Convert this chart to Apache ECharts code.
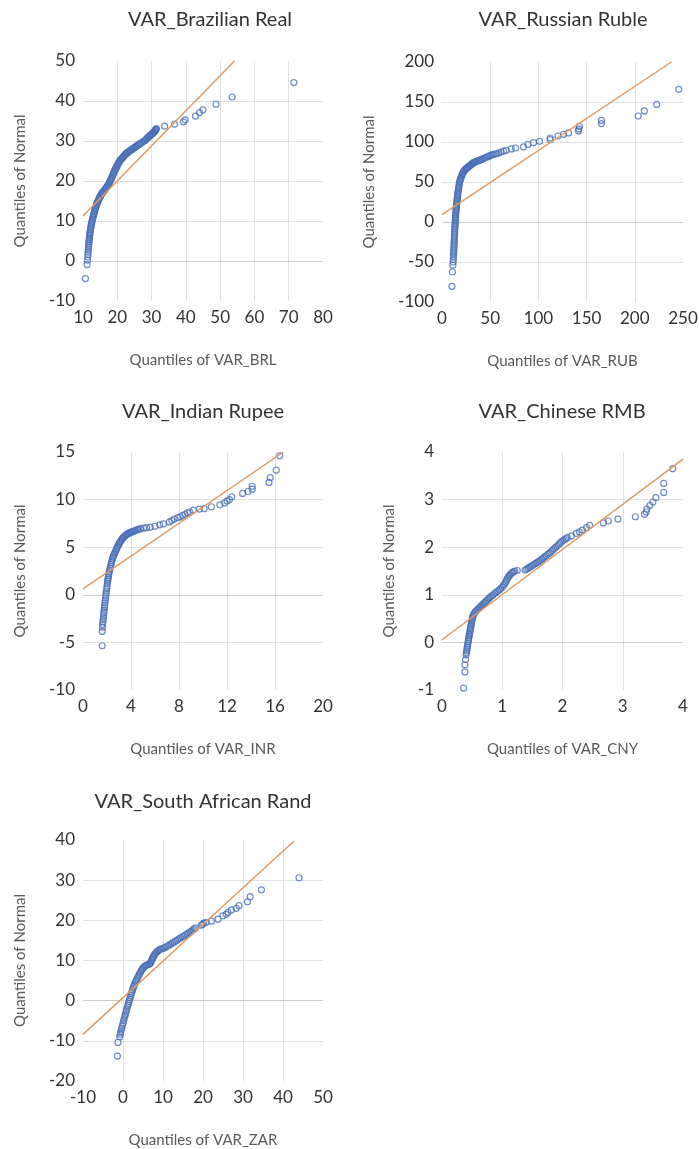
<!DOCTYPE html>
<html>
<head>
<meta charset="utf-8">
<script src="https://cdn.jsdelivr.net/npm/echarts@6/dist/echarts.min.js"></script>
<style>
  html, body { margin: 0; padding: 0; background: #fff; }
  #chart { width: 699px; height: 1149px; }
</style>
</head>
<body>
<div id="chart"></div>
<script>
// ---- Q-Q plot data: [sample quantile, normal quantile] ----
const brlPoints = [
  [10.7,-4.4],[11.2,-0.9],[11.3,0.2],[11.4,1.0],[11.45,1.6],[11.5,2.2],[11.55,2.8],[11.6,3.4],[11.65,3.9],
  [11.7,4.4],[11.75,4.8],[11.8,5.2],[11.85,5.6],[11.9,6.0],[11.95,6.4],[12.0,6.8],[12.05,7.1],[12.1,7.5],
  [12.2,7.9],[12.3,8.3],[12.35,8.7],[12.4,9.1],[12.5,9.5],[12.6,9.8],[12.7,10.2],[12.8,10.5],[12.9,10.9],
  [13.0,11.2],[13.1,11.5],[13.2,11.8],[13.3,12.2],[13.4,12.5],[13.5,12.8],[13.6,13.1],[13.7,13.4],[13.8,13.7],
  [13.9,14.0],[14.0,14.2],[14.15,14.5],[14.3,14.8],[14.45,15.1],[14.6,15.4],[14.75,15.7],[14.9,15.9],
  [15.05,16.2],[15.2,16.4],[15.35,16.7],[15.5,16.9],[15.7,17.1],[15.9,17.3],[16.1,17.5],[16.3,17.7],
  [16.5,18.0],[16.7,18.2],[16.9,18.5],[17.1,18.7],[17.3,19.0],[17.5,19.2],[17.65,19.5],[17.8,19.8],
  [17.95,20.1],[18.1,20.3],[18.25,20.6],[18.4,20.9],[18.55,21.2],[18.7,21.5],[18.85,21.8],[19.0,22.1],
  [19.15,22.4],[19.3,22.7],[19.45,23.0],[19.6,23.2],[19.75,23.5],[19.9,23.7],[20.05,24.0],[20.2,24.2],
  [20.35,24.5],[20.5,24.7],[20.65,24.9],[20.8,25.1],[21.0,25.3],[21.2,25.5],[21.4,25.7],[21.6,25.9],
  [21.8,26.1],[22.0,26.3],[22.2,26.5],[22.4,26.7],[22.6,26.9],[22.8,27.0],[23.05,27.2],[23.3,27.3],
  [23.55,27.5],[23.8,27.6],[24.05,27.8],[24.3,27.9],[24.55,28.1],[24.8,28.2],[25.05,28.4],[25.3,28.5],
  [25.55,28.7],[25.8,28.8],[26.05,29.0],[26.3,29.1],[26.55,29.3],[26.8,29.4],[27.3,29.7],[27.8,30.0],
  [28.05,30.1],[28.3,30.3],[28.5,30.5],[28.7,30.7],[28.9,30.8],[29.1,31.0],[29.3,31.2],[29.5,31.3],
  [29.7,31.5],[29.9,31.6],[30.1,31.8],[30.3,31.9],[30.5,32.1],[30.7,32.2],[30.85,32.4],[31.0,32.5],
  [31.1,32.7],[31.2,32.8],[31.3,33.0],[31.4,33.1],
  [33.8,33.7],[36.7,34.2],[39.3,34.8],[39.8,35.3],[42.8,36.2],[44.0,37.1],[45.0,37.8],[48.8,39.2],
  [53.5,41.0],[71.5,44.6]
];
const rubPoints = [
  [10.3,-80.4],[10.8,-62.5],[11.3,-54],[11.5,-50],[11.7,-47],[11.85,-44],[12.0,-41],[12.1,-38.5],[12.2,-36],
  [12.3,-33.5],[12.4,-31],[12.5,-28.5],[12.6,-26],[12.7,-23.5],[12.8,-21],[12.9,-18.5],[13.0,-16],[13.1,-13.5],
  [13.2,-11],[13.3,-8.5],[13.4,-6],[13.5,-4],[13.6,-2],[13.7,0],[13.8,2],[13.9,4],[14.0,6],[14.1,8],[14.2,10],
  [14.35,12],[14.5,14],[14.65,16],[14.8,18],[15.0,20],[15.2,22],[15.35,24],[15.5,26],[15.7,28],[15.9,30],
  [16.1,32],[16.3,34],[16.5,36],[16.7,38],[16.95,40],[17.2,42],[17.45,44],[17.7,46],[18.0,48],[18.3,50],
  [18.65,51.5],[19.0,53],[19.45,54.5],[19.9,56],[20.35,57.5],[20.8,59],[21.25,60.3],[21.7,61.5],[22.2,62.5],
  [22.7,63.5],[23.35,64.5],[24.0,65.5],[24.65,66.3],[25.3,67],[26.05,67.8],[26.8,68.5],[27.6,69.3],[28.4,70],
  [29.15,70.8],[29.9,71.5],[30.7,72.3],[31.5,73],[32.4,73.8],[33.3,74.5],[34.3,75],[35.3,75.5],[36.3,76],
  [37.4,76.5],[38.5,77],[39.5,77.5],[40.6,78],[41.8,78.5],[43,79.3],[44.2,80],[45.6,80.8],[47.1,81.5],
  [48.6,82.3],[50.2,83],[51.7,83.8],[53.2,84.5],[55,85],[56.9,85.5],[59,86.5],[61.4,87.5],[64,88.5],
  [66.6,89.6],[71.9,91.3],[76.3,92.5],[84.6,93.8],[89.1,97],[94.9,99.2],[101.2,100.8],[112.2,102.9],
  [112.2,105],[120.2,107.5],[126,109.6],[131.3,111.3],[141.6,113.8],[141.9,116.3],[142.6,119.6],
  [165.4,123],[165.4,127],[203.5,132.5],[209.9,138.8],[222.7,147],[245.6,165.8]
];
const inrPoints = [
  [1.6,-5.35],[1.6,-3.85],[1.62,-3.4],[1.63,-3.1],[1.66,-2.85],[1.68,-2.6],[1.7,-2.35],[1.72,-2.1],
  [1.74,-1.85],[1.76,-1.6],[1.78,-1.35],[1.8,-1.1],[1.83,-0.85],[1.85,-0.6],[1.88,-0.35],[1.9,-0.1],
  [1.93,0.15],[1.95,0.4],[1.98,0.65],[2.0,0.9],[2.03,1.15],[2.05,1.4],[2.08,1.6],[2.1,1.8],[2.13,2.0],
  [2.15,2.2],[2.19,2.4],[2.22,2.6],[2.26,2.8],[2.3,3.0],[2.34,3.2],[2.38,3.4],[2.42,3.6],[2.46,3.8],
  [2.5,3.95],[2.55,4.1],[2.6,4.25],[2.65,4.4],[2.7,4.55],[2.75,4.7],[2.8,4.85],[2.86,5.0],[2.92,5.15],
  [2.98,5.3],[3.04,5.45],[3.1,5.55],[3.16,5.68],[3.22,5.8],[3.28,5.9],[3.35,6.0],[3.42,6.1],[3.5,6.2],
  [3.58,6.28],[3.65,6.35],[3.72,6.4],[3.8,6.45],[3.88,6.5],[3.95,6.55],[4.05,6.6],[4.15,6.65],[4.25,6.7],
  [4.35,6.75],[4.45,6.8],[4.55,6.85],[4.68,6.9],[4.8,6.95],[5.05,7.0],[5.3,7.05],[5.6,7.1],[6.0,7.2],
  [6.4,7.35],[6.7,7.45],[7.2,7.65],[7.4,7.8],[7.6,7.95],[7.9,8.1],[8.1,8.2],[8.3,8.35],[8.5,8.45],
  [8.7,8.6],[8.9,8.7],[9.2,8.9],[9.7,9.0],[10.1,9.05],[10.7,9.25],[11.4,9.45],[11.8,9.65],[12.0,9.85],
  [12.2,10.0],[12.4,10.3],[13.3,10.65],[13.75,10.85],[14.1,11.1],[14.1,11.4],[15.5,11.8],[15.6,12.3],
  [16.1,13.1],[16.4,14.6]
];
const cnyPoints = [
  [0.36,-0.96],[0.38,-0.62],[0.38,-0.47],[0.39,-0.36],[0.40,-0.26],[0.405,-0.22],[0.41,-0.18],[0.415,-0.14],
  [0.42,-0.10],[0.425,-0.06],[0.43,-0.02],[0.435,0.02],[0.44,0.06],[0.445,0.10],[0.45,0.13],[0.455,0.17],
  [0.46,0.20],[0.465,0.24],[0.47,0.27],[0.475,0.31],[0.48,0.34],[0.485,0.38],[0.49,0.41],[0.495,0.45],
  [0.50,0.48],[0.505,0.51],[0.51,0.54],[0.52,0.57],[0.53,0.60],[0.545,0.63],[0.56,0.65],[0.58,0.68],
  [0.60,0.70],[0.62,0.73],[0.64,0.75],[0.66,0.78],[0.68,0.80],[0.70,0.83],[0.72,0.85],[0.74,0.88],
  [0.76,0.90],[0.78,0.93],[0.80,0.95],[0.825,0.98],[0.85,1.00],[0.875,1.03],[0.90,1.05],[0.925,1.08],
  [0.95,1.10],[0.975,1.13],[1.00,1.16],[1.02,1.20],[1.04,1.23],[1.055,1.27],[1.07,1.30],[1.085,1.34],
  [1.10,1.37],[1.115,1.40],[1.13,1.42],[1.15,1.45],[1.17,1.47],[1.19,1.49],[1.21,1.50],[1.25,1.51],
  [1.38,1.52],[1.405,1.54],[1.43,1.56],[1.455,1.58],[1.48,1.60],[1.505,1.62],[1.53,1.64],[1.555,1.66],
  [1.58,1.68],[1.605,1.70],[1.63,1.72],[1.655,1.75],[1.68,1.77],[1.705,1.80],[1.73,1.82],[1.755,1.85],
  [1.78,1.87],[1.805,1.90],[1.83,1.93],[1.855,1.96],[1.88,1.99],[1.905,2.02],[1.93,2.05],[1.955,2.08],
  [1.98,2.11],[2.005,2.14],[2.03,2.16],[2.055,2.18],[2.08,2.20],[2.15,2.24],[2.23,2.29],[2.28,2.32],
  [2.33,2.36],[2.40,2.41],[2.45,2.46],[2.68,2.51],[2.76,2.55],[2.92,2.59],[3.21,2.64],[3.36,2.69],
  [3.39,2.74],[3.40,2.80],[3.45,2.88],[3.50,2.95],[3.55,3.04],[3.68,3.15],[3.68,3.34],[3.83,3.65]
];
const zarPoints = [
  [-1.4,-13.8],[-1.25,-10.4],[-0.8,-9.0],[-0.7,-8.4],[-0.6,-7.9],[-0.45,-7.3],[-0.3,-6.8],[-0.15,-6.2],
  [0.0,-5.6],[0.15,-5.0],[0.3,-4.5],[0.45,-3.9],[0.6,-3.4],[0.75,-2.8],[0.9,-2.3],[1.05,-1.7],[1.2,-1.2],
  [1.35,-0.7],[1.5,-0.2],[1.65,0.3],[1.8,0.8],[1.95,1.3],[2.1,1.8],[2.25,2.2],[2.4,2.7],[2.55,3.1],
  [2.7,3.6],[2.85,4.0],[3.0,4.4],[3.2,4.8],[3.4,5.2],[3.6,5.6],[3.8,6.0],[4.0,6.4],[4.2,6.8],[4.4,7.2],
  [4.6,7.5],[4.8,7.8],[5.0,8.1],[5.25,8.4],[5.5,8.6],[5.75,8.8],[6.0,8.9],[6.3,9.0],[6.6,9.1],[6.8,9.3],
  [7.0,9.6],[7.15,10.0],[7.3,10.3],[7.45,10.7],[7.6,11.0],[7.8,11.3],[8.0,11.6],[8.25,11.9],[8.5,12.2],
  [8.75,12.4],[9.0,12.6],[9.3,12.8],[9.6,12.9],[10.0,13.0],[10.4,13.2],[10.8,13.4],[11.2,13.6],[11.6,13.9],
  [12.0,14.1],[12.4,14.4],[12.8,14.6],[13.2,14.9],[13.6,15.1],[14.0,15.4],[14.4,15.6],[14.8,15.9],
  [15.2,16.1],[15.6,16.4],[16.0,16.6],[16.4,16.9],[16.8,17.1],[17.15,17.4],[17.5,17.6],[17.8,17.9],
  [18.1,18.1],[19.6,18.8],[19.9,19.0],[20.2,19.3],[20.8,19.5],[22.1,19.8],[23.75,20.3],[25.0,21.1],
  [25.8,21.5],[26.25,22.0],[27.1,22.6],[28.3,23.0],[29.0,23.65],[31.1,24.6],[31.8,25.9],[34.6,27.6],
  [44.0,30.6]
];

// ---- reference lines (end points) ----
const brlFit = [[10, 11.25], [54.2, 50]];
const rubFit = [[0, 9.2], [238, 200]];
const inrFit = [[0, 0.63], [16.7, 15]];
const cnyFit = [[0, 0.056], [4, 3.85]];
const zarFit = [[-10, -8.4], [42.7, 39.7]];

// ---- axis scales: [min, max, interval] ----
const xScales = [[10, 80, 10], [0, 250, 50], [0, 20, 4], [0, 4, 1], [-10, 50, 10]];
const yScales = [[-10, 50, 10], [-100, 200, 50], [-10, 15, 5], [-1, 4, 1], [-20, 40, 10]];

// ---- text ----
const titles = ['VAR_Brazilian Real', 'VAR_Russian Ruble', 'VAR_Indian Rupee', 'VAR_Chinese RMB', 'VAR_South African Rand'];
const xNames = ['Quantiles of VAR_BRL', 'Quantiles of VAR_RUB', 'Quantiles of VAR_INR', 'Quantiles of VAR_CNY', 'Quantiles of VAR_ZAR'];
const yName = 'Quantiles of Normal';

const pointSets = [brlPoints, rubPoints, inrPoints, cnyPoints, zarPoints];
const fitSets = [brlFit, rubFit, inrFit, cnyFit, zarFit];

// ---- panel layout (plot rectangles and label placement) ----
const panels = [
  { left: 83,  top: 61,  width: 240, height: 240, tx: 210, ty: 20,  yGap: 55 },
  { left: 442, top: 62,  width: 241, height: 240, tx: 563, ty: 20,  yGap: 65 },
  { left: 83,  top: 452, width: 240, height: 238, tx: 203, ty: 412, yGap: 55 },
  { left: 442, top: 452, width: 241, height: 238, tx: 562, ty: 412, yGap: 45 },
  { left: 83,  top: 840, width: 240, height: 241, tx: 203, ty: 802, yGap: 55 }
];

const FONT = 'Lato, "Open Sans", sans-serif';
const GRID_COLOR = '#e2e2e2';

const chart = echarts.init(document.getElementById('chart'), null, { renderer: 'canvas' });

const option = {
  animation: false,
  backgroundColor: '#ffffff',
  graphic: panels.map((p, i) => ({
    type: 'text',
    x: p.tx,
    y: p.ty,
    style: {
      text: titles[i],
      fill: '#333333',
      fontSize: 20,
      fontFamily: FONT,
      textAlign: 'center',
      textVerticalAlign: 'middle',
      align: 'center',
      verticalAlign: 'middle'
    }
  })),
  grid: panels.map(p => ({
    left: p.left, top: p.top, width: p.width, height: p.height,
    containLabel: false, outerBoundsMode: 'none'
  })),
  xAxis: panels.map((p, i) => ({
    type: 'value',
    gridIndex: i,
    min: xScales[i][0], max: xScales[i][1], interval: xScales[i][2],
    name: xNames[i],
    nameLocation: 'middle',
    nameGap: 52,
    nameTextStyle: { color: '#595959', fontSize: 15, fontFamily: FONT },
    axisLine: { show: false },
    axisTick: { show: false },
    axisLabel: { margin: 8, color: '#333333', fontSize: 17, fontFamily: FONT, showMinLabel: true, showMaxLabel: true },
    splitLine: { show: true, showMinLine: false, showMaxLine: false, lineStyle: { color: GRID_COLOR, width: 1 } }
  })),
  yAxis: panels.map((p, i) => ({
    type: 'value',
    gridIndex: i,
    min: yScales[i][0], max: yScales[i][1], interval: yScales[i][2],
    name: yName,
    nameLocation: 'middle',
    nameGap: p.yGap,
    nameRotate: 90,
    nameTextStyle: { color: '#595959', fontSize: 15, fontFamily: FONT },
    axisLine: { show: false },
    axisTick: { show: false },
    axisLabel: { margin: 8, color: '#333333', fontSize: 17, fontFamily: FONT, showMinLabel: true, showMaxLabel: true },
    splitLine: { show: true, showMinLine: false, showMaxLine: false, lineStyle: { color: GRID_COLOR, width: 1 } }
  })),
  series: []
};

pointSets.forEach((pts, i) => {
  option.series.push({
    type: 'scatter',
    xAxisIndex: i,
    yAxisIndex: i,
    data: pts,
    symbol: 'circle',
    symbolSize: 6,
    itemStyle: { color: 'rgba(255,255,255,0)', borderColor: '#4a70b8', borderWidth: 1.2 },
    silent: true,
    z: 2,
    markLine: {
      silent: true,
      symbol: 'none',
      label: { show: false },
      lineStyle: { color: '#cdcdcd', width: 1, type: 'solid' },
      data: [{ yAxis: 0 }],
      z: 1
    }
  });
  option.series.push({
    type: 'line',
    xAxisIndex: i,
    yAxisIndex: i,
    data: fitSets[i],
    symbol: 'none',
    silent: true,
    lineStyle: { color: '#e39a5f', width: 1.5 },
    z: 3
  });
});

chart.setOption(option);
</script>
</body>
</html>
